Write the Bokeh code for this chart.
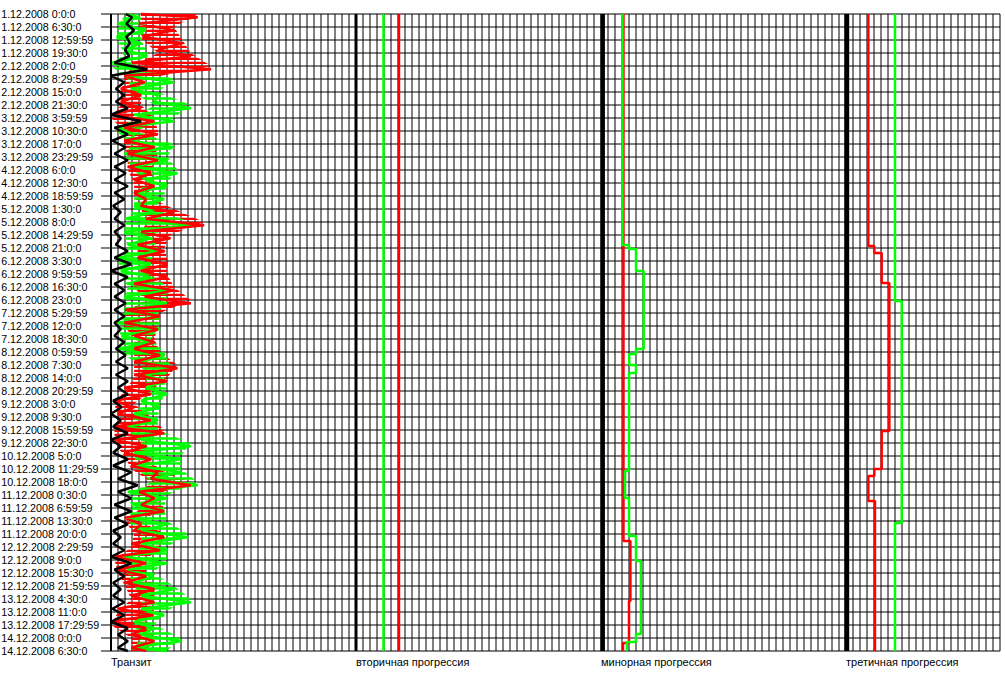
from bokeh.plotting import figure
from bokeh.models import Range1d
from bokeh.core.properties import value
from bokeh.embed import file_html
from bokeh.resources import INLINE

# ---------------- data ----------------
time_labels = [
    "1.12.2008 0:0:0", "1.12.2008 6:30:0", "1.12.2008 12:59:59", "1.12.2008 19:30:0",
    "2.12.2008 2:0:0", "2.12.2008 8:29:59", "2.12.2008 15:0:0", "2.12.2008 21:30:0",
    "3.12.2008 3:59:59", "3.12.2008 10:30:0", "3.12.2008 17:0:0", "3.12.2008 23:29:59",
    "4.12.2008 6:0:0", "4.12.2008 12:30:0", "4.12.2008 18:59:59", "5.12.2008 1:30:0",
    "5.12.2008 8:0:0", "5.12.2008 14:29:59", "5.12.2008 21:0:0", "6.12.2008 3:30:0",
    "6.12.2008 9:59:59", "6.12.2008 16:30:0", "6.12.2008 23:0:0", "7.12.2008 5:29:59",
    "7.12.2008 12:0:0", "7.12.2008 18:30:0", "8.12.2008 0:59:59", "8.12.2008 7:30:0",
    "8.12.2008 14:0:0", "8.12.2008 20:29:59", "9.12.2008 3:0:0", "9.12.2008 9:30:0",
    "9.12.2008 15:59:59", "9.12.2008 22:30:0", "10.12.2008 5:0:0", "10.12.2008 11:29:59",
    "10.12.2008 18:0:0", "11.12.2008 0:30:0", "11.12.2008 6:59:59", "11.12.2008 13:30:0",
    "11.12.2008 20:0:0", "12.12.2008 2:29:59", "12.12.2008 9:0:0", "12.12.2008 15:30:0",
    "12.12.2008 21:59:59", "13.12.2008 4:30:0", "13.12.2008 11:0:0", "13.12.2008 17:29:59",
    "14.12.2008 0:0:0", "14.12.2008 6:30:0",
]
STEP_H = 6.5  # hours between labelled rows

panel_names = ["Транзит", "вторичная прогрессия", "минорная прогрессия", "третичная прогрессия"]

# Transit: left / right extent of each series around every labelled row (grid columns)
transit_black_lo = [2.1, 2.2, 2.2, 2.0, 0.5, 0.0, 0.7, 0.7, 0.0, 0.5, 0.2, 0.5, 0.5, 0.5, 0.5, 0.3, 0.5,
                    0.5, 0.7, 0.5, 0.0, 0.5, 0.5, 0.5, 0.5, 0.5, 0.7, 0.7, 0.7, 1.0, 0.3, 0.0, 0.3, 0.0,
                    0.3, 0.3, 1.0, 1.0, 0.5, 0.5, 0.3, 0.3, 0.0, 0.5, 0.3, 0.3, 0.2, 0.0, 1.0, 1.0]
transit_black_hi = [3.0, 3.3, 2.7, 2.6, 5.2, 1.9, 1.9, 2.4, 4.3, 2.4, 2.1, 2.4, 2.1, 2.4, 1.9, 1.4, 1.9,
                    1.4, 2.4, 2.9, 2.4, 1.9, 2.1, 1.9, 1.4, 1.9, 2.1, 2.4, 2.4, 2.4, 1.5, 1.4, 2.4, 1.4,
                    2.4, 2.9, 3.8, 2.9, 2.9, 2.4, 1.4, 1.9, 2.9, 1.9, 1.4, 1.9, 1.9, 2.4, 2.4, 2.4]
transit_green_lo = [2.0, 1.0, 0.8, 1.9, 0.0, 2.4, 2.9, 6.2, 3.3, 0.7, 2.9, 1.9, 3.3, 5.0, 3.3, 3.3, 2.0,
                    1.9, 2.4, 1.0, 1.4, 2.4, 1.9, 1.9, 1.0, 1.5, 1.0, 4.3, 5.0, 5.0, 4.3, 3.3, 2.4, 4.3,
                    3.3, 3.8, 5.7, 2.4, 3.0, 2.4, 4.3, 4.3, 1.9, 2.4, 3.3, 4.3, 4.3, 3.3, 4.3, 2.9]
transit_green_hi = [4.0, 5.0, 4.3, 5.2, 3.3, 9.0, 6.7, 11.4, 9.0, 3.3, 9.0, 8.1, 9.5, 8.0, 7.6, 6.2, 11.4,
                    5.7, 6.7, 5.7, 5.7, 8.1, 8.0, 6.7, 7.0, 5.7, 7.6, 8.5, 7.6, 8.0, 7.0, 6.7, 6.7, 11.4,
                    10.0, 10.0, 12.4, 8.0, 7.6, 8.0, 11.0, 8.0, 8.0, 6.0, 9.0, 11.4, 7.6, 6.2, 10.0, 8.0]
transit_red_lo = [4.3, 4.0, 4.5, 6.7, 3.0, 1.9, 1.4, 1.4, 0.0, 1.9, 1.9, 2.4, 2.4, 3.3, 3.3, 4.3, 5.0,
                  4.3, 3.8, 3.8, 4.3, 3.3, 4.8, 2.0, 1.9, 3.3, 3.3, 3.3, 3.3, 1.9, 0.5, 1.0, 0.5, 0.5,
                  1.9, 2.9, 5.7, 4.0, 4.3, 2.0, 3.3, 2.9, 0.5, 1.0, 2.0, 2.9, 1.0, 0.0, 2.9, 2.9]
transit_red_hi = [12.4, 9.0, 10.2, 11.4, 14.3, 4.8, 4.3, 4.3, 6.2, 6.7, 6.2, 6.7, 5.7, 6.2, 5.0, 9.0, 13.3,
                  8.5, 7.6, 8.1, 8.0, 9.0, 11.4, 7.0, 6.7, 6.2, 7.0, 9.5, 8.0, 5.7, 3.3, 5.7, 7.6, 5.0,
                  5.7, 6.7, 11.4, 6.2, 7.6, 4.3, 7.6, 7.0, 5.0, 5.0, 6.2, 6.2, 6.0, 5.0, 6.2, 5.0]

# Secondary progression: constant levels (grid columns from panel axis)
secondary_black = 0.0
secondary_green = 3.93
secondary_red = 6.14

# Minor progression: change times (hours) and levels
minor_green_t = [0.0, 115.5, 117.5, 128.5, 167.5, 170.0, 175.5, 179.5, 228.5, 242.0, 261.0, 273.5, 310.0, 314.0]
minor_green_v = [3.07, 4.0, 5.0, 6.1, 5.0, 4.04, 5.0, 4.0, 3.43, 4.0, 5.0, 5.7, 5.0, 3.7]
minor_red_t = [0.0, 263.5, 293.5, 314.5]
minor_red_v = [3.21, 4.2, 4.0, 3.14]
minor_black = 0.24

# Tertiary progression
tertiary_red_t = [0.0, 116.0, 119.5, 134.5, 208.5, 227.5, 231.0, 243.5]
tertiary_red_v = [3.19, 4.04, 5.1, 6.19, 5.1, 4.04, 3.19, 4.14]
tertiary_green_t = [0.0, 143.5, 254.5]
tertiary_green_v = [7.0, 7.96, 7.0]
tertiary_black = 0.1

# ---------------- layout ----------------
N_COLS = 127
PANEL_OFFSET = [0, 35, 70, 105]
END_H = STEP_H * (len(time_labels) - 1)
row_h = [STEP_H * i for i in range(len(time_labels))]

RED = "#ff0000"
GREEN = "#00ff00"
BLACK = "#000000"

W, H = 1005, 672
x0 = -110.5 / 7.0
y_top = -13.5 / 2.0
p = figure(width=W, height=H, output_backend="svg", toolbar_location=None,
           x_range=Range1d(x0, x0 + W / 7.0), y_range=Range1d(y_top + H / 2.0, y_top),
           x_axis_type=None, y_axis_type=None, min_border=0)
p.outline_line_color = None
p.background_fill_color = "white"
p.border_fill_color = "white"

# grid
p.segment(x0=[-10 / 7.0] * len(row_h), x1=[N_COLS] * len(row_h), y0=row_h, y1=row_h,
          line_color=BLACK, line_width=1)
cols = list(range(N_COLS + 1))
p.segment(x0=cols, x1=cols, y0=[0] * len(cols), y1=[END_H] * len(cols),
          line_color=BLACK, line_width=1)

# transit series: hatched envelope (dense horizontal swings) + zig-zag trace
def zigzag(lo, hi):
    xs, ys = [], []
    for h, a, b in zip(row_h, lo, hi):
        xs += [a, b]
        ys += [max(h - 1.625, 0), min(h + 1.625, END_H)]
    return xs, ys

p.harea(x1=transit_red_lo, x2=transit_red_hi, y=row_h, fill_alpha=0,
        hatch_pattern="horizontal_line", hatch_color=RED, hatch_weight=2.5, hatch_scale=4)
p.harea(x1=transit_green_lo, x2=transit_green_hi, y=row_h, fill_alpha=0,
        hatch_pattern="horizontal_line", hatch_color=GREEN, hatch_weight=2.5, hatch_scale=5)
for lo, hi, col, w in [(transit_green_lo, transit_green_hi, GREEN, 2.5),
                       (transit_red_lo, transit_red_hi, RED, 2.5),
                       (transit_black_lo, transit_black_hi, BLACK, 2.5)]:
    xs, ys = zigzag(lo, hi)
    p.line(xs, ys, line_color=col, line_width=w)

# panel axes / black series
p.line([PANEL_OFFSET[0]] * 2, [0, END_H], line_color=BLACK, line_width=2)
p.line([PANEL_OFFSET[1] + secondary_black] * 2, [0, END_H], line_color=BLACK, line_width=3)
p.line([PANEL_OFFSET[2] + minor_black] * 2, [0, END_H], line_color=BLACK, line_width=4.5)
p.line([PANEL_OFFSET[3] + tertiary_black] * 2, [0, END_H], line_color=BLACK, line_width=5)

# secondary constants
p.line([PANEL_OFFSET[1] + secondary_red] * 2, [0, END_H], line_color=RED, line_width=2.5)
p.line([PANEL_OFFSET[1] + secondary_green] * 2, [0, END_H], line_color=GREEN, line_width=2.5)

def step_path(ts, vs, off):
    xs, ys = [], []
    for j, (t, v) in enumerate(zip(ts, vs)):
        nxt = ts[j + 1] if j + 1 < len(ts) else END_H
        xs += [off + v, off + v]
        ys += [t, nxt]
    return xs, ys

for ts, vs, off, col in [(minor_red_t, minor_red_v, PANEL_OFFSET[2], RED),
                         (minor_green_t, minor_green_v, PANEL_OFFSET[2], GREEN),
                         (tertiary_red_t, tertiary_red_v, PANEL_OFFSET[3], RED),
                         (tertiary_green_t, tertiary_green_v, PANEL_OFFSET[3], GREEN)]:
    xs, ys = step_path(ts, vs, off)
    p.line(xs, ys, line_color=col, line_width=2.5)

# row labels
p.text(x=[x0 + 0.1] * len(time_labels), y=row_h, text=time_labels,
       text_font=value("Liberation Sans"), text_font_size="10.7px",
       text_align="left", text_baseline="middle", text_color=BLACK)

# panel labels
p.text(x=PANEL_OFFSET, y=[323.75] * 4, text=panel_names,
       text_font=value("Liberation Sans"), text_font_size="11px",
       text_align="left", text_baseline="middle", text_color=BLACK)

open("out.html", "w").write(file_html(p, INLINE))
